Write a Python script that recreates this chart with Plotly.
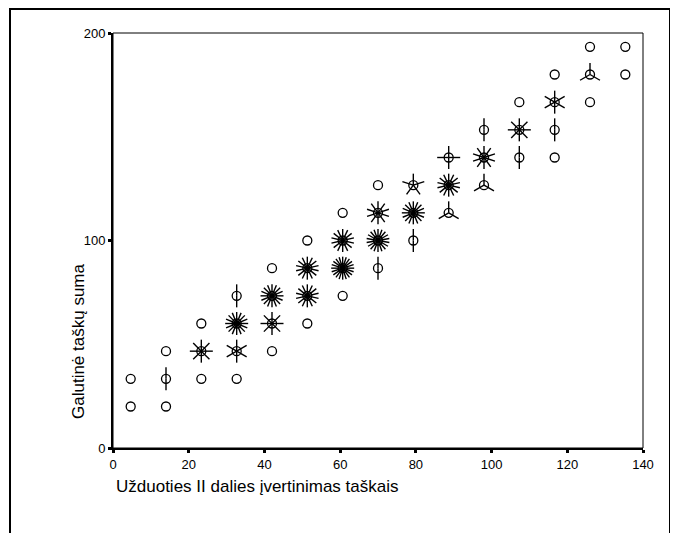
import math
import plotly.graph_objects as go

# Sunflower cells: centre x, centre y, number of observations
cell_x = [4.67, 4.67,
          14, 14, 14,
          23.33, 23.33, 23.33,
          32.67, 32.67, 32.67, 32.67,
          42, 42, 42, 42,
          51.33, 51.33, 51.33, 51.33,
          60.67, 60.67, 60.67, 60.67,
          70, 70, 70, 70,
          79.33, 79.33, 79.33,
          88.67, 88.67, 88.67,
          98, 98, 98,
          107.33, 107.33, 107.33,
          116.67, 116.67, 116.67, 116.67,
          126, 126, 126,
          135.33, 135.33]
cell_y = [20, 33.33,
          20, 33.33, 46.67,
          33.33, 46.67, 60,
          33.33, 46.67, 60, 73.33,
          46.67, 60, 73.33, 86.67,
          60, 73.33, 86.67, 100,
          73.33, 86.67, 100, 113.33,
          86.67, 100, 113.33, 126.67,
          100, 113.33, 126.67,
          113.33, 126.67, 140,
          126.67, 140, 153.33,
          140, 153.33, 166.67,
          140, 153.33, 166.67, 180,
          166.67, 180, 193.33,
          180, 193.33]
cell_n = [1, 1,
          1, 2, 1,
          1, 8, 1,
          1, 6, 16, 2,
          1, 8, 16, 1,
          1, 14, 14, 1,
          1, 20, 14, 1,
          2, 18, 10, 1,
          2, 16, 5,
          3, 14, 4,
          3, 10, 2,
          2, 8, 1,
          1, 2, 6, 1,
          1, 3, 1,
          1, 1]

x_ticks = [0, 20, 40, 60, 80, 100, 120, 140]
y_ticks = [0, 100, 200]
x_title = "Užduoties II dalies įvertinimas taškais"
y_title = "Galutinė taškų suma"

# layout geometry (pixels); the page body adds an 8px offset
OFF = 8
W, H = 678 - OFF, 533 - OFF
L_M, T_M = 113 - OFF, 33 - OFF
PW, PH = 530, 415
R_M, B_M = W - L_M - PW, H - T_M - PH
X_RANGE = [0, 140]
Y_RANGE = [0, 200]
px_x = PW / (X_RANGE[1] - X_RANGE[0])
px_y = PH / (Y_RANGE[1] - Y_RANGE[0])
PETAL = 11.5  # petal length in px


def fx(p):  # page px -> paper x
    return (p - OFF - L_M) / PW


def fy(p):  # page px -> paper y
    return (T_M + PH - (p - OFF)) / PH


px, py = [], []
for x, y, n in zip(cell_x, cell_y, cell_n):
    if n < 2:
        continue
    for k in range(n):
        a = math.pi / 2 + 2 * math.pi * k / n
        px += [x, x + PETAL * math.cos(a) / px_x, None]
        py += [y, y + PETAL * math.sin(a) / px_y, None]

fig = go.Figure()
fig.add_trace(go.Scatter(x=px, y=py, mode="lines",
                         line=dict(color="black", width=1.4),
                         hoverinfo="skip", showlegend=False))
fig.add_trace(go.Scatter(x=cell_x, y=cell_y, mode="markers",
                         marker=dict(symbol="circle-open", size=9, color="black",
                                     line=dict(color="black", width=1.3)),
                         hoverinfo="skip", showlegend=False))

font = "Liberation Sans, Arial, sans-serif"
fig.update_layout(
    width=W, height=H,
    margin=dict(l=L_M, r=R_M, t=T_M, b=B_M),
    paper_bgcolor="white", plot_bgcolor="white",
    font=dict(family=font, size=13, color="black"),
    xaxis=dict(range=X_RANGE, tickvals=x_ticks, ticks="outside", ticklen=3,
               tickwidth=3, tickcolor="black", showgrid=False, zeroline=False,
               showline=True, linecolor="black", linewidth=2,
               tickfont=dict(size=13, family=font)),
    yaxis=dict(range=Y_RANGE, tickvals=y_ticks, ticks="outside", ticklen=3,
               tickwidth=3, tickcolor="black", showgrid=False, zeroline=False,
               showline=True, linecolor="black", linewidth=2,
               tickfont=dict(size=13, family=font)),
    shapes=[
        dict(type="rect", xref="paper", yref="paper", x0=0, x1=1, y0=0, y1=1,
             line=dict(color="black", width=1)),
        dict(type="rect", xref="paper", yref="paper",
             x0=fx(10), x1=fx(670), y0=fy(560), y1=fy(9),
             line=dict(color="black", width=2)),
    ],
    annotations=[
        dict(text=x_title, xref="paper", yref="paper",
             x=fx(114), y=fy(486),
             xanchor="left", yanchor="middle", showarrow=False,
             font=dict(size=17, family=font)),
        dict(text=y_title, xref="paper", yref="paper",
             x=fx(78), y=fy(341),
             xanchor="center", yanchor="middle", textangle=-90, showarrow=False,
             font=dict(size=17, family=font)),
    ],
)

fig.write_html("out.html")
